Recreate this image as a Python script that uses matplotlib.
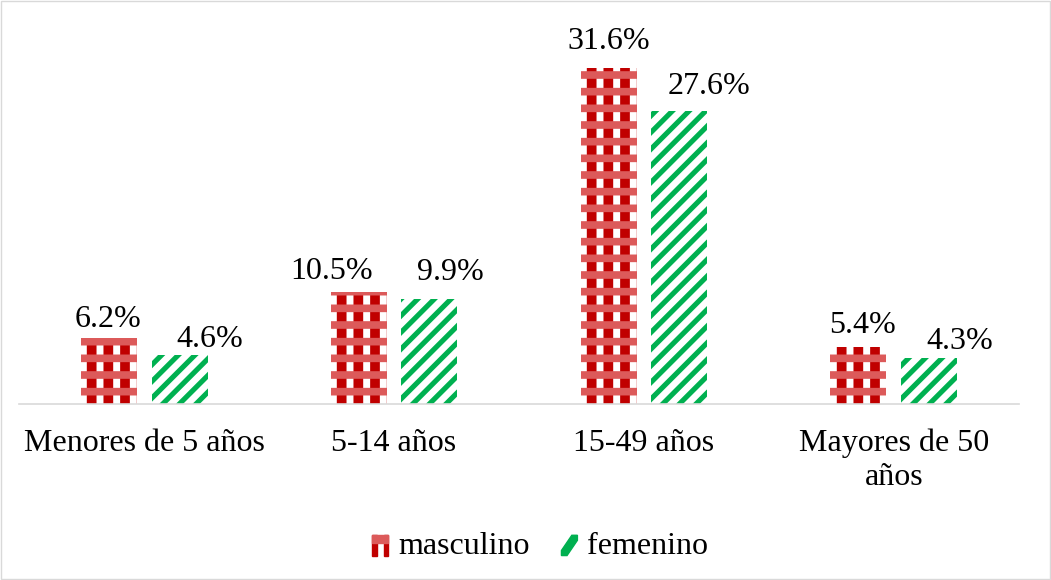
import numpy as np
import matplotlib.pyplot as plt
from matplotlib.patches import Patch, Rectangle, Polygon
from matplotlib.legend_handler import HandlerBase

categorias = ['Menores de 5 años', '5-14 años', '15-49 años', 'Mayores de 50\naños']
masculino = [6.2, 10.5, 31.6, 5.4]
femenino = [4.6, 9.9, 27.6, 4.3]

# label offsets in points (Excel puts them a bit off the bar centre)
dx_m = [0, -19.4, 0, 2.9]
dx_f = [21.6, 15.1, 21.6, 21.6]
dy_m = [7.9, 9.4, 13.7, 10.1]
dy_f = [5.8, 13.7, 12.2, 6.5]

plt.rcParams['font.family'] = ['Liberation Serif', 'DejaVu Serif']

rojo = '#C00000'
rojo_claro = '#DC5A5A'
verde = '#00B050'
FS = 23


def hatched(maker, lw, **kw):
    # hatch width per artist (3.10), falls back to global rc
    with plt.rc_context({'hatch.linewidth': lw}):
        arts = maker(**kw)
    items = arts if hasattr(arts, '__iter__') else [arts]
    for a in items:
        if hasattr(a, 'set_hatch_linewidth'):
            a.set_hatch_linewidth(lw)
    return arts


class MascHandler(HandlerBase):
    # small piece of the checker pattern like in the excel legend
    def create_artists(self, legend, orig, xd, yd, width, height, fontsize, trans):
        s = width * 0.28
        return [Rectangle((xd, yd), s, height, color=rojo, transform=trans),
                Rectangle((xd + width - s, yd), s, height, color=rojo, transform=trans),
                Rectangle((xd, yd + height * 0.6), width, height * 0.4, color=rojo_claro, transform=trans)]


class FemHandler(HandlerBase):
    def create_artists(self, legend, orig, xd, yd, width, height, fontsize, trans):
        t = width * 0.35
        return [Polygon([(xd, yd), (xd + t, yd), (xd + width, yd + height - t * 0.9),
                         (xd + width, yd + height), (xd + width - t, yd + height), (xd, yd + t * 0.9)],
                        closed=True, color=verde, transform=trans)]


fig = plt.figure(figsize=(10.51, 5.80), dpi=100)
ax = fig.add_axes([19/1051, 1-404/580, 1000/1051, 372/580])

x = np.arange(len(categorias))
w = 0.224
xm = x - 0.142
xf = x + 0.142

hatched(ax.bar, 7, x=xm, height=masculino, width=w, color='white', edgecolor=rojo, hatch='|', linewidth=0)
hatched(ax.bar, 5.5, x=xm, height=masculino, width=w, color='none', edgecolor=rojo_claro, hatch='-', linewidth=0)
hatched(ax.bar, 3.7, x=xf, height=femenino, width=w, color='white', edgecolor=verde, hatch='//', linewidth=0)

for i in range(len(x)):
    ax.annotate(f'{masculino[i]:.1f}%', (xm[i], masculino[i]), xytext=(dx_m[i], dy_m[i]),
                textcoords='offset points', ha='center', va='baseline', fontsize=FS)
    ax.annotate(f'{femenino[i]:.1f}%', (xf[i], femenino[i]), xytext=(dx_f[i], dy_f[i]),
                textcoords='offset points', ha='center', va='baseline', fontsize=FS)

ax.set_xlim(-0.5, 3.5)
ax.set_ylim(0, 35)
ax.set_yticks([])
ax.set_xticks(x)
ax.set_xticklabels(categorias, fontsize=FS, linespacing=1.2)
ax.tick_params(axis='x', length=0, pad=18)
for s in ['top', 'left', 'right']:
    ax.spines[s].set_visible(False)
ax.spines['bottom'].set_color('#D9D9D9')
ax.spines['bottom'].set_linewidth(1.2)

h_m = Patch(label='masculino')
h_f = Patch(label='femenino')
fig.legend(handles=[h_m, h_f], handler_map={h_m: MascHandler(), h_f: FemHandler()},
           loc='center', bbox_to_anchor=(0.514, 0.057), ncol=2, frameon=False,
           fontsize=FS, handlelength=0.5, handleheight=0.6, handletextpad=0.3, columnspacing=1.0)

fig.patches.append(Rectangle((0.001, 0.001), 0.998, 0.998, transform=fig.transFigure,
                             fill=False, edgecolor='#D9D9D9', linewidth=1))

fig.savefig('out.png', dpi=100)
